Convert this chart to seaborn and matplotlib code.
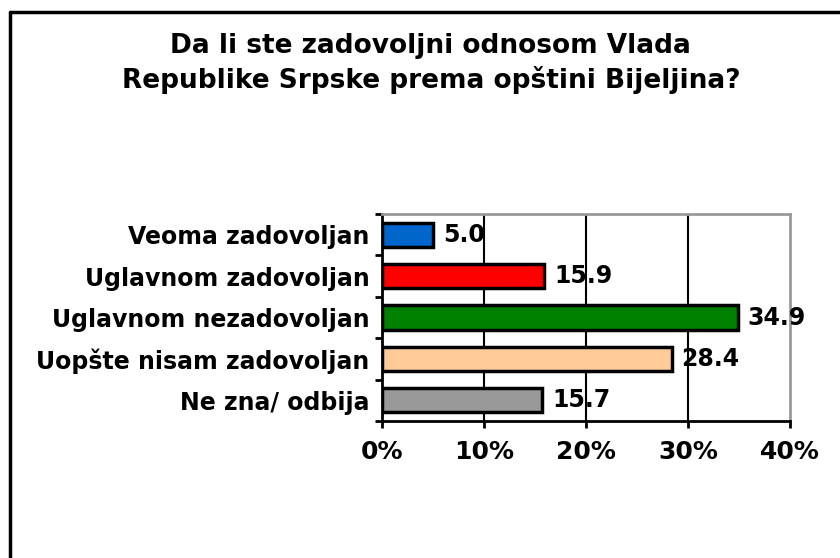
import numpy as np
import pandas as pd
import matplotlib.pyplot as plt
import seaborn as sns
from matplotlib.lines import Line2D
from matplotlib.ticker import FixedLocator

# ── Data ──────────────────────────────────────────────────────
categories = ['Veoma zadovoljan', 'Uglavnom zadovoljan', 'Uglavnom nezadovoljan',
              'Uopšte nisam zadovoljan', 'Ne zna/ odbija']
values     = [5.0, 15.9, 34.9, 28.4, 15.7]
colors     = ['#0066CC', '#FF0000', '#008000', '#FFCC99', '#999999']
x_ticks    = [0, 10, 20, 30, 40]
x_labels   = ['0%', '10%', '20%', '30%', '40%']
title      = 'Da li ste zadovoljni odnosom Vlada\nRepublike Srpske prema opštini Bijeljina?'

df = pd.DataFrame({'cat': categories, 'val': values})

sns.set_theme(style='white')
plt.rcParams['font.family'] = ['DejaVu Sans']
plt.rcParams['font.weight'] = 'bold'
plt.rcParams['text.color'] = 'black'
plt.rcParams['xtick.color'] = 'black'
plt.rcParams['ytick.color'] = 'black'

fig = plt.figure(figsize=(8.4, 5.58), dpi=100)
ax = fig.add_axes([0.4548, 0.2455, 0.4857, 0.371])

sns.barplot(data=df, x='val', y='cat', hue='cat', palette=colors, legend=False,
            orient='h', width=0.58, edgecolor='black', linewidth=2.5, ax=ax,
            saturation=1)

for c in ax.containers:
    ax.bar_label(c, fmt='%.1f', padding=7, fontsize=17, fontweight='bold', color='black')

ax.set_xlim(0, 40)
ax.set_ylim(4.5, -0.5)
ax.set_xticks(x_ticks)
ax.set_xticklabels(x_labels, fontsize=18, fontweight='bold', color='black')
ax.set_yticks(range(len(categories)))
ax.set_yticklabels(categories, fontsize=17, fontweight='bold', color='black')
ax.tick_params(axis='y', length=0, pad=9)
ax.yaxis.set_minor_locator(FixedLocator(np.arange(-0.5, len(categories), 1)))
ax.tick_params(axis='y', which='minor', left=True, length=5, width=2, direction='out', color='black')
ax.tick_params(axis='x', bottom=True, length=5, width=2, direction='out', color='black', pad=9)
ax.set_xlabel('')
ax.set_ylabel('')

for x in x_ticks[1:-1]:
    ax.axvline(x, color='black', lw=1.5, zorder=0)
ax.set_axisbelow(True)

for s in ['left', 'bottom']:
    ax.spines[s].set_color('black')
    ax.spines[s].set_linewidth(2)
for s in ['top', 'right']:
    ax.spines[s].set_color('#999999')
    ax.spines[s].set_linewidth(2)

fig.text(0.513, 0.886, title, ha='center', va='center', fontsize=19,
         fontweight='bold', linespacing=1.3, color='black')

# outer frame (left and top edges visible)
fig.add_artist(Line2D([10/840, 10/840], [0, 1 - 12/558], color='black', lw=2.5,
                      transform=fig.transFigure))
fig.add_artist(Line2D([10/840, 1], [1 - 12/558, 1 - 12/558], color='black', lw=2.5,
                      transform=fig.transFigure))

fig.savefig('out.png', dpi=100, facecolor='white')
